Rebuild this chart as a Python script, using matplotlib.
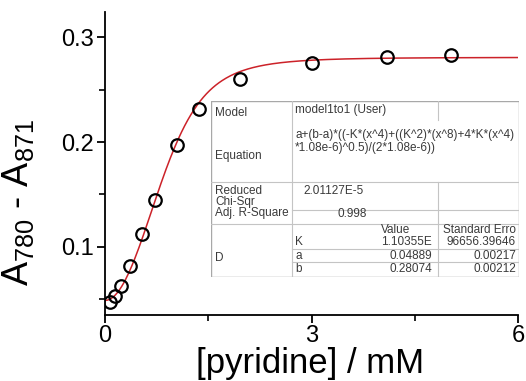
import numpy as np
import matplotlib
matplotlib.use("Agg")
import matplotlib.pyplot as plt

plt.rcParams['font.family'] = ['Liberation Sans', 'DejaVu Sans']
plt.rcParams['mathtext.fontset'] = 'custom'
plt.rcParams['mathtext.rm'] = 'Liberation Sans'
plt.rcParams['mathtext.it'] = 'Liberation Sans'

# titration data: pyridine concentration (mM) vs absorbance difference
conc = [0.073, 0.145, 0.228, 0.363, 0.542, 0.726, 1.05, 1.36, 1.96, 3.0, 4.1, 5.02]
dA = [0.047, 0.0533, 0.0622, 0.0819, 0.1127, 0.1445, 0.1974, 0.2312, 0.2597, 0.2755, 0.2807, 0.2829]

# fit parameters (model1to1)
K = 1.10355e6
a = 0.04889
b = 0.28074
P = 1.08e-6

xticks = [0, 3, 6]
yticks = [0.1, 0.2, 0.3]


def model(xm):
    x = xm * 1e-3
    u = K * x ** 4
    return a + (b - a) * ((-u + np.sqrt(u ** 2 + 4 * u * P)) / (2 * P))


fig = plt.figure(figsize=(5.26, 3.81), dpi=100)
ax = fig.add_axes([105 / 526, 1 - 315 / 381, 413 / 526, 303 / 381])

xfit = np.linspace(0, 6, 400)
ax.plot(xfit, model(xfit), color='#cc2229', lw=1.1, zorder=2)
ax.plot(conc, dA, 'o', mfc='none', mec='black', mew=1.6, ms=9, zorder=3)

ax.set_xlim(0, 6)
ax.set_ylim(0.035, 0.324)
ax.set_xticks(xticks)
ax.set_xticklabels([str(t) for t in xticks])
ax.set_xticks([1.5, 4.5], minor=True)
ax.set_yticks(yticks)
ax.set_yticklabels(['0.1', '0.2', '0.3'])
ax.set_yticks([0.05, 0.15, 0.25], minor=True)
for s in ['top', 'right']:
    ax.spines[s].set_visible(False)
for s in ['left', 'bottom']:
    ax.spines[s].set_linewidth(1.3)
ax.tick_params(which='major', direction='out', length=6, width=1.3, labelsize=17, pad=2)
ax.tick_params(which='minor', direction='out', length=4, width=1.2)
ax.tick_params(axis='x', pad=1)

fig.text(310 / 526, 1 - 363 / 381, '[pyridine] / mM', fontsize=25, ha='center', va='center')
fig.text(18 / 526, 1 - 202 / 381, r'A$_{780}$ - A$_{871}$', fontsize=26,
         rotation=90, ha='center', va='center')

# fit report table, laid out in pixel coordinates
tx0, tx1, ty0, ty1 = 211, 519, 101, 277
tab = fig.add_axes([tx0 / 526, 1 - ty1 / 381, (tx1 - tx0) / 526, (ty1 - ty0) / 381])
tab.set_xlim(tx0, tx1)
tab.set_ylim(ty1, ty0)
tab.axis('off')
tab.add_patch(plt.Rectangle((tx0, ty0), tx1 - tx0, ty1 - ty0, facecolor='white',
                            edgecolor='#a8a8a8', lw=1.0, zorder=0))

c1, c2 = 292, 438
grid = '#c4c4c4'
tab.plot([c1, c1], [ty0, ty1], color=grid, lw=0.8)
tab.plot([c2, c2], [ty0, 120], color=grid, lw=0.8)
tab.plot([c2, c2], [182, 224], color=grid, lw=0.8)
tab.plot([c2, c2], [224, ty1], color=grid, lw=0.8)
for yy in [182, 224]:
    tab.plot([tx0, tx1], [yy, yy], color=grid, lw=0.8)
for yy in [210, 249, 262]:
    tab.plot([c1, tx1], [yy, yy], color=grid, lw=0.8)
tab.plot([tx0 + 1, tx1], [ty1 + 1, ty1 + 1], color='#d0d0d0', lw=1.5)

fs = 8.5
tc = '#3a3a3a'
left_cells = [('Model', 113), ('Equation', 156), ('Reduced', 191), ('Chi-Sqr', 202),
              ('Adj. R-Square', 213), ('D', 258)]
for txt, yy in left_cells:
    tab.text(215, yy, txt, fontsize=fs, color=tc, va='center', ha='left')

tab.text(295, 110, 'model1to1 (User)', fontsize=fs, color=tc, va='center')
tab.text(295, 135, 'a+(b-a)*((-K*(x^4)+((K^2)*(x^8)+4*K*(x^4)', fontsize=fs, color=tc, va='center')
tab.text(295, 148, '*1.08e-6)^0.5)/(2*1.08e-6))', fontsize=fs, color=tc, va='center')
tab.text(303, 191, '2.01127E-5', fontsize=fs, color=tc, va='center')
tab.text(338, 214, '0.998', fontsize=fs, color=tc, va='center')
tab.text(396, 230, 'Value', fontsize=fs, color=tc, va='center', ha='center')
tab.text(516, 230, 'Standard Erro', fontsize=fs, color=tc, va='center', ha='right')

param_rows = [('K', '1.10355E', '96656.39646', 242),
              ('a', '0.04889', '0.00217', 256),
              ('b', '0.28074', '0.00212', 269)]
for name, val, err, yy in param_rows:
    tab.text(295, yy, name, fontsize=fs, color=tc, va='center')
    tab.text(432, yy, val, fontsize=fs, color=tc, va='center', ha='right')
    tab.text(516, yy, err, fontsize=fs, color=tc, va='center', ha='right')

fig.savefig('out.png', dpi=100)
